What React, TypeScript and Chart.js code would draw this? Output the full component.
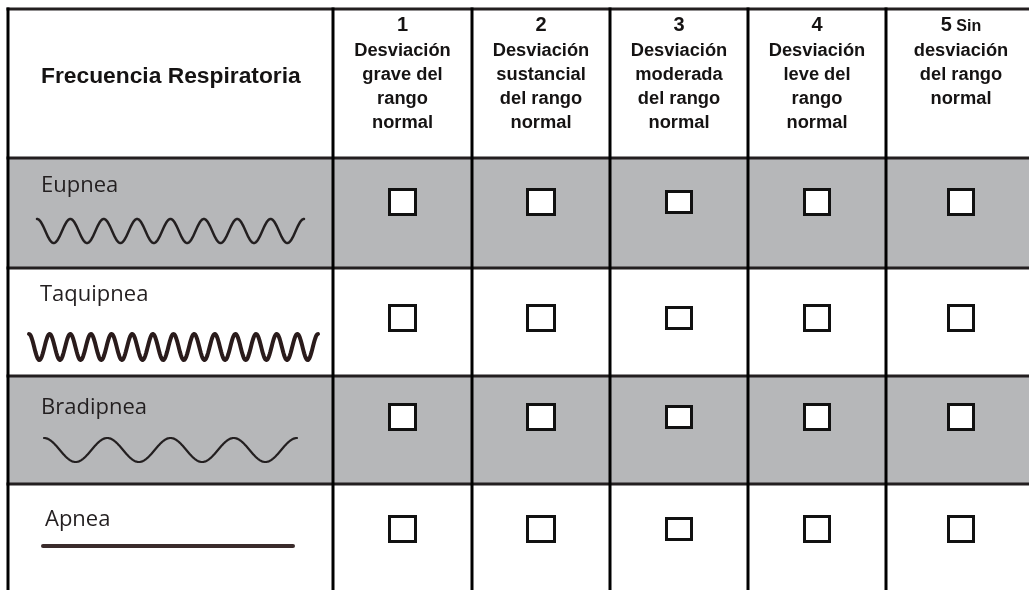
import { useEffect, useRef } from 'react';
import { Chart, registerables } from 'chart.js';

Chart.register(...registerables);

// ---------------- DATA ----------------
const headerTitle = 'Frecuencia Respiratoria';
const scoreNumbers = ['1', '2', '3', '4', '5'];
const scoreFirstLineSuffix = ['', '', '', '', 'Sin'];
const scoreDescriptions = [
  ['Desviación', 'grave del', 'rango', 'normal'],
  ['Desviación', 'sustancial', 'del rango', 'normal'],
  ['Desviación', 'moderada', 'del rango', 'normal'],
  ['Desviación', 'leve del', 'rango', 'normal'],
  ['desviación', 'del rango', 'normal'],
];
const rowLabels = ['Eupnea', 'Taquipnea', 'Bradipnea', 'Apnea'];
const waveCycles = [8, 14, 4, 0];
const rowShaded = [true, false, true, false];

// ---------------- LAYOUT / STYLE ----------------
const W = 1029;
const H = 590;
const colEdges = [8, 333, 472, 610, 748, 886, 1036];
const rowEdges = [9, 158, 268, 376, 484, 590];
const boxOffsetY = [44, 50, 41, 45];
const boxSizes = [
  [29, 28],
  [30, 28],
  [28, 24],
  [28, 28],
  [28, 28],
];
const labelX = [41, 40, 41, 45];
const labelBaseline = [34, 33, 38, 42];
const waveStyle = [
  { x0: 37, x1: 304, cy: 231, amp: 12, lw: 2.5, color: '#231f20' },
  { x0: 29, x1: 318, cy: 347, amp: 13, lw: 4, color: '#2a1b1b' },
  { x0: 44, x1: 297, cy: 450, amp: 12, lw: 2.2, color: '#231f20' },
  { x0: 43, x1: 293, cy: 546, amp: 0, lw: 4, color: '#3a2b2b' },
];
const headerBaselines = [31, 56, 80, 104, 128];
const GREY = '#b6b7b9';
const HLINE = '#231f20';
const VLINE = '#000000';

const colCenter = (i: number) => (colEdges[i] + colEdges[i + 1]) / 2;

function boxImage(w: number, h: number) {
  const c = document.createElement('canvas');
  c.width = w;
  c.height = h;
  const g = c.getContext('2d')!;
  g.fillStyle = '#ffffff';
  g.fillRect(0, 0, w, h);
  g.strokeStyle = '#111111';
  g.lineWidth = 3;
  g.strokeRect(1.5, 1.5, w - 3, h - 3);
  return c;
}

const tablePlugin = {
  id: 'tablePlugin',
  beforeDatasetsDraw(chart: any) {
    const { ctx, scales } = chart;
    const px = (v: number) => scales.x.getPixelForValue(v);
    const py = (v: number) => scales.y.getPixelForValue(v);
    ctx.save();

    // row shading
    rowShaded.forEach((sh, i) => {
      if (!sh) return;
      const top = py(rowEdges[i + 1]);
      const bot = py(rowEdges[i + 2]);
      ctx.fillStyle = GREY;
      ctx.fillRect(px(colEdges[0]), top, px(W) - px(colEdges[0]), bot - top);
    });

    // header title
    ctx.fillStyle = '#151313';
    ctx.textBaseline = 'alphabetic';
    ctx.textAlign = 'left';
    ctx.font = 'bold 22.8px "Liberation Sans", Arial, sans-serif';
    ctx.fillText(headerTitle, px(41), py(83));

    // score column headers
    scoreNumbers.forEach((num, ci) => {
      const cx = px(colCenter(ci + 1));
      const numFont = 'bold 20px "Liberation Sans", Arial, sans-serif';
      const sufFont = 'bold 16px "Liberation Sans", Arial, sans-serif';
      const txtFont = 'bold 18.3px "Liberation Sans", Arial, sans-serif';
      const suffix = scoreFirstLineSuffix[ci];
      ctx.textAlign = 'left';
      ctx.font = numFont;
      const wNum = ctx.measureText(num).width;
      let wSuf = 0;
      const sufStr = suffix ? ' ' + suffix : '';
      if (sufStr) {
        ctx.font = sufFont;
        wSuf = ctx.measureText(sufStr).width;
      }
      const start = cx - (wNum + wSuf) / 2;
      ctx.font = numFont;
      ctx.fillText(num, start, py(headerBaselines[0]));
      if (sufStr) {
        ctx.font = sufFont;
        ctx.fillText(sufStr, start + wNum, py(headerBaselines[0]));
      }
      ctx.textAlign = 'center';
      ctx.font = txtFont;
      scoreDescriptions[ci].forEach((line, li) => {
        ctx.fillText(line, cx, py(headerBaselines[li + 1]));
      });
    });

    // row labels
    ctx.textAlign = 'left';
    ctx.fillStyle = '#231f20';
    ctx.font = '22px "Open Sans", sans-serif';
    rowLabels.forEach((lab, ri) => {
      ctx.fillText(lab, px(labelX[ri]), py(rowEdges[ri + 1] + labelBaseline[ri]));
    });

    // waveforms
    waveStyle.forEach((ws, ri) => {
      const n = waveCycles[ri];
      ctx.beginPath();
      ctx.lineWidth = ws.lw;
      ctx.strokeStyle = ws.color;
      ctx.lineCap = 'round';
      ctx.lineJoin = 'round';
      const steps = 400;
      for (let s = 0; s <= steps; s++) {
        const t = s / steps;
        const xv = ws.x0 + (ws.x1 - ws.x0) * t;
        const yv = ws.cy - ws.amp * Math.cos(2 * Math.PI * n * t);
        if (s === 0) ctx.moveTo(px(xv), py(yv));
        else ctx.lineTo(px(xv), py(yv));
      }
      ctx.stroke();
    });

    // horizontal lines
    ctx.lineCap = 'butt';
    ctx.strokeStyle = HLINE;
    ctx.lineWidth = 3;
    for (let i = 0; i < rowEdges.length - 1; i++) {
      ctx.beginPath();
      ctx.moveTo(px(colEdges[0]) - 1.5, py(rowEdges[i]));
      ctx.lineTo(px(W), py(rowEdges[i]));
      ctx.stroke();
    }
    // vertical lines
    ctx.strokeStyle = VLINE;
    for (let i = 0; i < colEdges.length - 1; i++) {
      ctx.beginPath();
      ctx.moveTo(px(colEdges[i]), py(rowEdges[0]) - 1.5);
      ctx.lineTo(px(colEdges[i]), py(H));
      ctx.stroke();
    }
    ctx.restore();
  },
};

export default function App() {
  const ref = useRef<HTMLCanvasElement>(null);
  useEffect(() => {
    const images = boxSizes.map(([w, h]) => boxImage(w, h));
    const datasets = scoreNumbers.map((num, ci) => ({
      label: num,
      data: rowLabels.map((_, ri) => ({
        x: colCenter(ci + 1),
        y: rowEdges[ri + 1] + boxOffsetY[ri],
      })),
      pointStyle: images[ci] as any,
      pointRadius: 15,
      pointHoverRadius: 15,
      showLine: false,
      clip: false as any,
    }));
    const chart = new Chart(ref.current!, {
      type: 'scatter',
      data: { datasets },
      options: {
        animation: false,
        responsive: false,
        events: [],
        layout: { padding: 0, autoPadding: false },
        plugins: { legend: { display: false }, tooltip: { enabled: false } },
        scales: {
          x: { type: 'linear', min: 0, max: W, display: false },
          y: { type: 'linear', min: 0, max: H, reverse: true, display: false },
        },
      },
      plugins: [tablePlugin],
    });
    return () => chart.destroy();
  }, []);
  return (
    <div style={{ position: 'absolute', left: 0, top: 0, width: W, height: H, background: '#fff' }}>
      <canvas ref={ref} width={W} height={H} style={{ display: 'block', width: W, height: H }} />
    </div>
  );
}
